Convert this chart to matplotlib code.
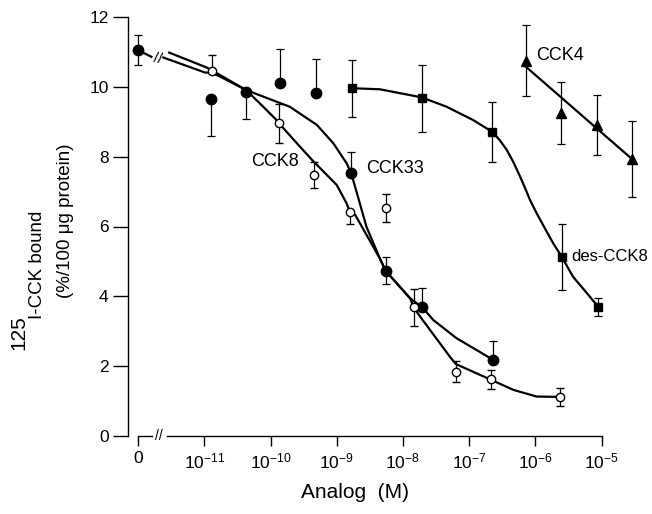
import numpy as np
import matplotlib
matplotlib.use("Agg")
import matplotlib.pyplot as plt
import matplotlib.transforms as mtransforms

plt.rcParams['font.family'] = ['Liberation Sans', 'DejaVu Sans']
plt.rcParams['mathtext.fontset'] = 'custom'
plt.rcParams['mathtext.rm'] = 'Liberation Sans'

# the "0" concentration is drawn one decade left of 10^-11
ZERO_AT = 1e-12

# CCK33 (filled circles)
cck33_x = [ZERO_AT, 1.25e-11, 4.3e-11, 1.39e-10, 4.9e-10, 1.67e-9, 5.5e-9, 1.96e-8, 2.3e-7]
cck33_y = [11.05, 9.65, 9.86, 10.10, 9.83, 7.52, 4.73, 3.69, 2.18]
cck33_lo = [0.43, 1.07, 0.79, 0, 0, 0, 0.39, 0, 0]
cck33_hi = [0.43, 0, 0, 0.97, 0.96, 0.62, 0.39, 0.56, 0.54]

# CCK8 (open circles)
cck8_x = [1.3e-11, 1.34e-10, 4.6e-10, 1.58e-9, 5.6e-9, 1.46e-8, 6.3e-8, 2.14e-7, 2.36e-6]
cck8_y = [10.45, 8.95, 7.47, 6.41, 6.52, 3.69, 1.84, 1.62, 1.12]
cck8_lo = [0, 0.55, 0.37, 0.34, 0.40, 0.53, 0.30, 0.27, 0.26]
cck8_hi = [0.46, 0.55, 0.37, 0, 0.40, 0.53, 0.30, 0.27, 0.26]

# des-CCK8 (squares)
des_x = [1.69e-9, 1.92e-8, 2.24e-7, 2.5e-6, 8.9e-6]
des_y = [9.96, 9.67, 8.71, 5.13, 3.70]
des_err = [0.82, 0.95, 0.86, 0.94, 0.26]

# CCK4 (triangles)
cck4_x = [7.2e-7, 2.44e-6, 8.5e-6, 2.9e-5]
cck4_y = [10.75, 9.24, 8.91, 7.93]
cck4_err = [1.02, 0.89, 0.85, 1.09]

# fitted curves (log10 of concentration, bound)
zero_seg_log = [-12.0, -11.80]
zero_seg_y = [11.05, 10.86]

cck33_curve_log = [-11.53, -10.96, -10.82, -10.37, -10.11, -9.71, -9.30, -9.05, -8.85,
                   -8.78, -8.55, -8.35, -8.26, -7.89, -7.71, -7.54, -7.19, -6.84, -6.64]
cck33_curve_y = [10.98, 10.55, 10.40, 9.91, 9.72, 9.43, 8.91, 8.38, 7.81,
                 7.52, 5.99, 5.09, 4.73, 3.94, 3.69, 3.32, 2.80, 2.41, 2.18]

cck8_curve_log = [-11.62, -10.99, -10.89, -10.79, -10.37, -10.11, -9.91, -9.87, -9.60,
                  -9.35, -9.25, -9.00, -8.85, -8.80, -8.72, -8.35, -8.26, -7.89, -7.84,
                  -7.74, -7.29, -7.20, -6.68, -6.33, -5.98, -5.63]
cck8_curve_y = [10.84, 10.41, 10.40, 10.32, 9.91, 9.43, 9.05, 8.95, 8.38,
                7.86, 7.67, 7.19, 6.66, 6.41, 6.33, 5.09, 4.73, 3.94, 3.69,
                3.42, 2.27, 2.06, 1.62, 1.32, 1.13, 1.12]

des_curve_log = [-8.77, -8.35, -7.72, -7.34, -6.94, -6.65, -6.54, -6.43, -6.33, -6.23,
                 -6.15, -6.08, -5.98, -5.85, -5.73, -5.60, -5.43, -5.22, -5.05]
des_curve_y = [9.96, 9.93, 9.70, 9.43, 9.05, 8.71, 8.48, 8.19, 7.84, 7.43,
               7.08, 6.76, 6.38, 5.93, 5.52, 5.13, 4.56, 4.09, 3.70]

cck4_curve_log = [-6.145, -4.52]
cck4_curve_y = [10.58, 7.90]

xtick_pos = [ZERO_AT, 1e-11, 1e-10, 1e-9, 1e-8, 1e-7, 1e-6, 1e-5]
xtick_labels = ['0'] + [r'$\mathregular{10^{%d}}$' % e for e in range(-11, -4)]

fig = plt.figure(figsize=(6.52, 5.14), dpi=100)
ax = fig.add_axes([128 / 652, 78 / 514, 517 / 652, 419 / 514])
ax.set_xscale('log')
ax.set_xlim(10 ** -12.153, 10 ** -4.343)
ax.set_ylim(0, 12)

lw = 1.6
for lg, yy in [(zero_seg_log, zero_seg_y), (cck33_curve_log, cck33_curve_y),
               (cck8_curve_log, cck8_curve_y), (des_curve_log, des_curve_y),
               (cck4_curve_log, cck4_curve_y)]:
    ax.plot(10 ** np.array(lg), yy, color='black', lw=lw, zorder=2)

# break mark on the curves
ax.text(10 ** -11.70, 10.80, '//', fontsize=11, ha='center', va='center', rotation=-10)

ebkw = dict(ecolor='black', elinewidth=0.9, capsize=3, capthick=0.9, ls='none', zorder=3)
ax.errorbar(cck33_x, cck33_y, yerr=[cck33_lo, cck33_hi], fmt='o', ms=7.5,
            mfc='black', mec='black', **ebkw)
ax.errorbar(cck8_x, cck8_y, yerr=[cck8_lo, cck8_hi], fmt='o', ms=6,
            mfc='white', mec='black', mew=1.0, **ebkw)
ax.errorbar(des_x, des_y, yerr=des_err, fmt='s', ms=5.5, mfc='black', mec='black', **ebkw)
ax.errorbar(cck4_x, cck4_y, yerr=cck4_err, fmt='^', ms=7.5, mfc='black', mec='black', **ebkw)

ax.text(10 ** -9.93, 7.87, 'CCK8', fontsize=13, ha='center', va='center')
ax.text(10 ** -8.12, 7.65, 'CCK33', fontsize=13, ha='center', va='center')
ax.text(10 ** -5.62, 10.91, 'CCK4', fontsize=13, ha='center', va='center')
ax.text(10 ** -5.46, 5.15, 'des-CCK8', fontsize=12, ha='left', va='center')

# axes: left spine normal, bottom axis drawn with a break
for s in ['top', 'right', 'bottom']:
    ax.spines[s].set_visible(False)
ax.spines['left'].set_linewidth(1.0)
trans = mtransforms.blended_transform_factory(ax.transData, ax.transAxes)
ax.plot([ZERO_AT, 10 ** -11.795], [0, 0], color='black', lw=1.0, transform=trans, clip_on=False)
ax.plot([10 ** -11.57, 1e-5], [0, 0], color='black', lw=1.0, transform=trans, clip_on=False)
ax.text(10 ** -11.68, 0, '//', fontsize=10, ha='center', va='center', transform=trans)

ax.set_xticks(xtick_pos)
ax.set_xticklabels(xtick_labels)
ax.xaxis.set_minor_locator(matplotlib.ticker.NullLocator())
ax.set_yticks([0, 2, 4, 6, 8, 10, 12])
ax.tick_params(axis='x', direction='out', length=7, width=1.0, labelsize=12.5, pad=4)
ax.tick_params(axis='y', direction='out', length=11, width=1.0, labelsize=12.5, pad=3)

fig.text(355 / 652, 1 - 492 / 514, 'Analog  (M)', fontsize=15, ha='center', va='center')

fig.text(37 / 652, 1 - 265 / 514, 'I-CCK bound', rotation=90, fontsize=13.5, ha='center', va='center')
fig.text(19 / 652, 1 - 333 / 514, '125', rotation=90, fontsize=15, ha='center', va='center')
fig.text(65 / 652, 1 - 221 / 514, '(%/100 μg protein)', rotation=90, fontsize=13.5, ha='center', va='center')

fig.savefig('out.png', dpi=100)
